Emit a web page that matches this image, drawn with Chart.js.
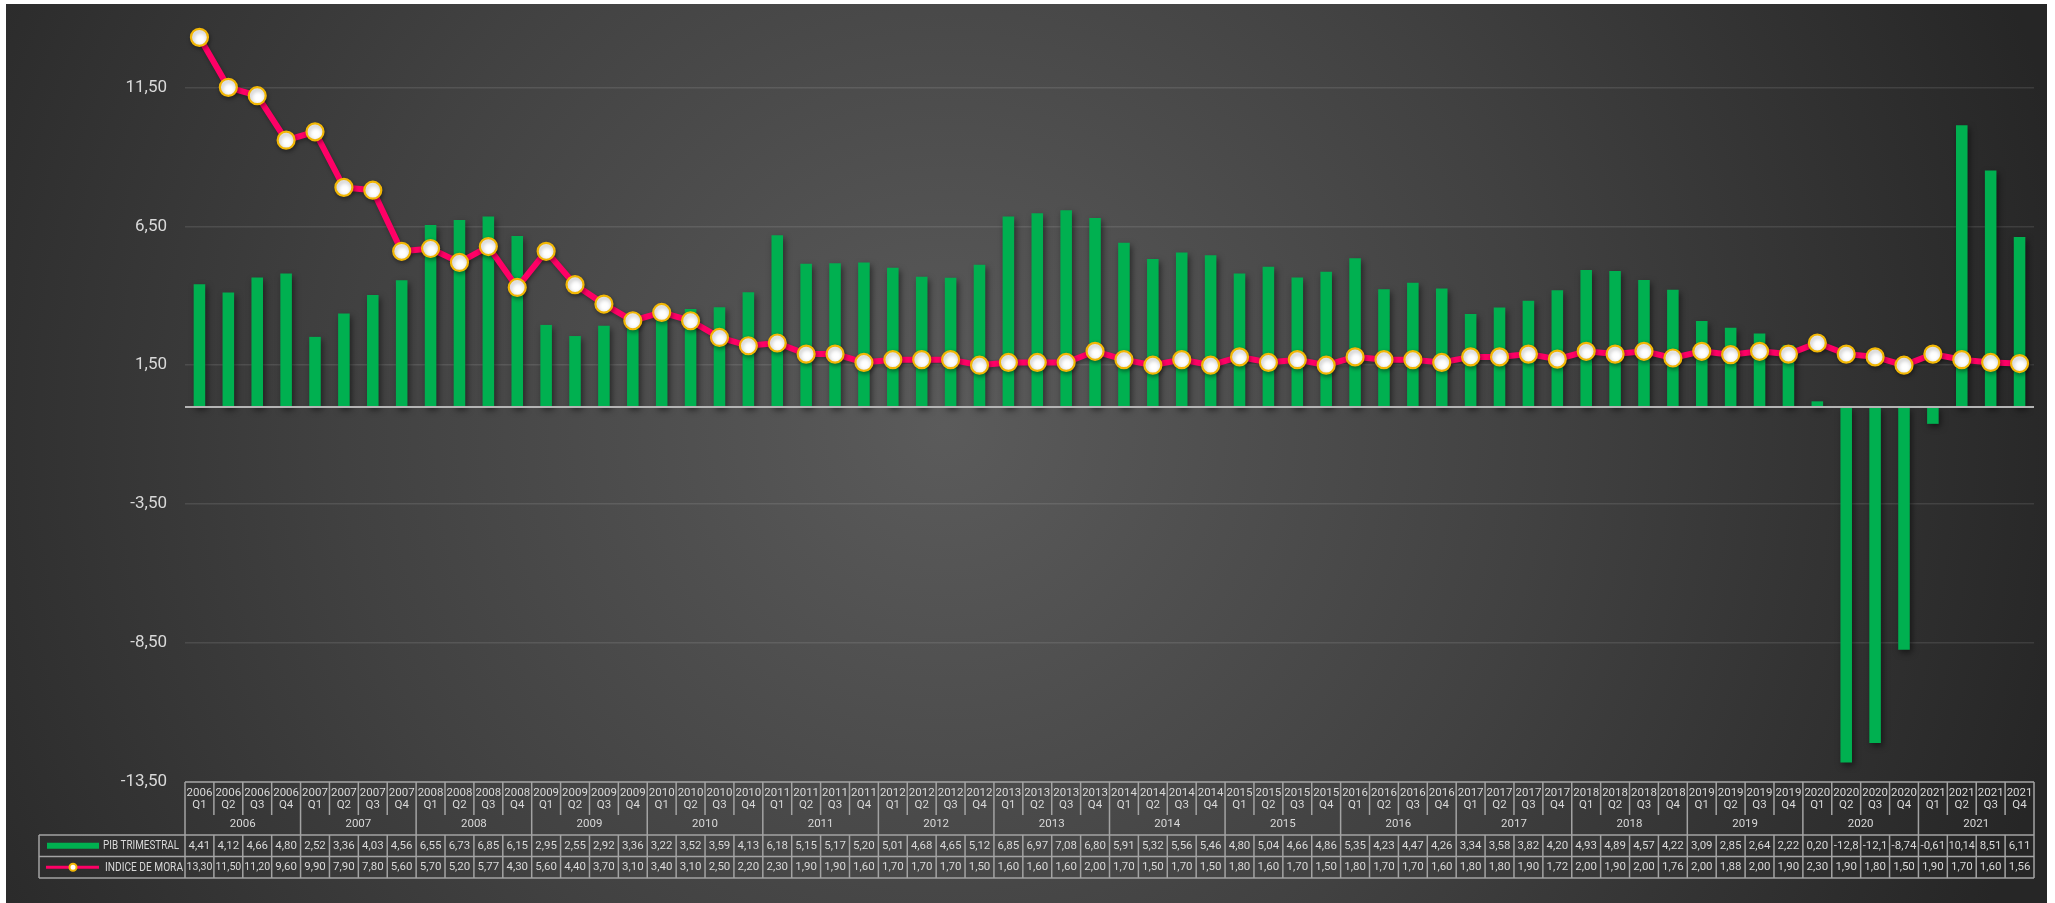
<!DOCTYPE html>
<html>
<head>
<meta charset="utf-8">
<script src="https://cdn.jsdelivr.net/npm/chart.js@4.4.1/dist/chart.umd.min.js"></script>
<style>
  html, body { margin: 0; padding: 0; background: #ffffff; }
  #wrap {
    position: absolute; left: 6px; top: 4px; width: 2041px; height: 899px;
    background: radial-gradient(circle at 46% 47%, #5b5b5b 0px, #414141 600px, #262626 1150px);
  }
  canvas { display: block; }
</style>
</head>
<body>
<div id="wrap"><canvas id="pib_mora_chart"></canvas></div>
<script>
const years = ["2006", "2007", "2008", "2009", "2010", "2011", "2012", "2013",
  "2014", "2015", "2016", "2017", "2018", "2019", "2020", "2021"];
const quarters = ["Q1", "Q2", "Q3", "Q4"];

const pib_trimestral = [
  4.41, 4.12, 4.66, 4.80,
  2.52, 3.36, 4.03, 4.56,
  6.55, 6.73, 6.85, 6.15,
  2.95, 2.55, 2.92, 3.36,
  3.22, 3.52, 3.59, 4.13,
  6.18, 5.15, 5.17, 5.20,
  5.01, 4.68, 4.65, 5.12,
  6.85, 6.97, 7.08, 6.80,
  5.91, 5.32, 5.56, 5.46,
  4.80, 5.04, 4.66, 4.86,
  5.35, 4.23, 4.47, 4.26,
  3.34, 3.58, 3.82, 4.20,
  4.93, 4.89, 4.57, 4.22,
  3.09, 2.85, 2.64, 2.22,
  0.20, -12.8, -12.1, -8.74,
  -0.61, 10.14, 8.51, 6.11,
];

const indice_mora = [
  13.30, 11.50, 11.20, 9.60,
  9.90, 7.90, 7.80, 5.60,
  5.70, 5.20, 5.77, 4.30,
  5.60, 4.40, 3.70, 3.10,
  3.40, 3.10, 2.50, 2.20,
  2.30, 1.90, 1.90, 1.60,
  1.70, 1.70, 1.70, 1.50,
  1.60, 1.60, 1.60, 2.00,
  1.70, 1.50, 1.70, 1.50,
  1.80, 1.60, 1.70, 1.50,
  1.80, 1.70, 1.70, 1.60,
  1.80, 1.80, 1.90, 1.72,
  2.00, 1.90, 2.00, 1.76,
  2.00, 1.88, 2.00, 1.90,
  2.30, 1.90, 1.80, 1.50,
  1.90, 1.70, 1.60, 1.56,
];

const y_ticks = [-13.5, -8.5, -3.5, 1.5, 6.5, 11.5];

const pib_label = "PIB TRIMESTRAL";
const mora_label = "INDICE DE MORA";

let labels = [];
years.forEach((y) => {
  quarters.forEach((q) => labels.push([y, q]));
});

const textColor = "#d9d9d9";
const tableLine = "#a3a3a3";
const barColor = "#00b050";
const lineColor = "#ff0066";
const markerBorder = "#f2b705";

// excel-style value in a narrow cell: two decimals, comma, max 5 chars
function cellText(v) {
  return v.toFixed(2).replace(".", ",").slice(0, 5);
}

const shadowPlugin = {
  id: "shadow",
  beforeDatasetDraw(chart, args) {
    const ctx = chart.ctx;
    ctx.save();
    if (args.index === 0) {
      ctx.shadowColor = "rgba(0,0,0,0.35)";
      ctx.shadowBlur = 4;
      ctx.shadowOffsetX = 1;
      ctx.shadowOffsetY = 2;
    } else {
      ctx.shadowColor = "rgba(0,0,0,0.5)";
      ctx.shadowBlur = 6;
      ctx.shadowOffsetX = 2;
      ctx.shadowOffsetY = 3;
    }
  },
  afterDatasetDraw(chart) {
    chart.ctx.restore();
  },
};

// horizontal axis line at 0, on top of the bars
const zeroLinePlugin = {
  id: "zeroLine",
  afterDatasetDraw(chart, args) {
    if (args.index !== 1) return;
    const ctx = chart.ctx;
    const area = chart.chartArea;
    const y0 = chart.scales.y.getPixelForValue(0);
    ctx.save();
    ctx.strokeStyle = "#b4b4b4";
    ctx.lineWidth = 2;
    ctx.beginPath();
    ctx.moveTo(area.left, y0);
    ctx.lineTo(area.right, y0);
    ctx.stroke();
    ctx.restore();
  },
};

// data table under the plot: quarters, years, then one row per series
const tablePlugin = {
  id: "dataTable",
  afterDraw(chart) {
    const ctx = chart.ctx;
    const area = chart.chartArea;
    const xs = chart.scales.x;
    const n = labels.length;
    const cw = (area.right - area.left) / n;

    const top = area.bottom;
    const qBottom = top + 33;
    const yearBottom = top + 53;
    const row1Bottom = yearBottom + 21.5;
    const row2Bottom = row1Bottom + 21.5;
    const legendLeft = 33;

    ctx.save();
    ctx.strokeStyle = tableLine;
    ctx.lineWidth = 1.5;
    ctx.beginPath();
    ctx.moveTo(area.left, top);
    ctx.lineTo(area.right, top);
    [yearBottom, row1Bottom, row2Bottom].forEach((y) => {
      ctx.moveTo(legendLeft, y);
      ctx.lineTo(area.right, y);
    });
    ctx.moveTo(legendLeft, yearBottom);
    ctx.lineTo(legendLeft, row2Bottom);
    for (let i = 0; i <= n; i++) {
      const x = area.left + i * cw;
      if (i % 4 === 0) {
        ctx.moveTo(x, top);
        ctx.lineTo(x, row2Bottom);
      } else {
        ctx.moveTo(x, top);
        ctx.lineTo(x, qBottom);
        ctx.moveTo(x, yearBottom);
        ctx.lineTo(x, row2Bottom);
      }
    }
    ctx.stroke();

    ctx.fillStyle = textColor;
    ctx.textAlign = "center";
    ctx.textBaseline = "middle";
    ctx.font = "11.5px Roboto";
    const r1 = yearBottom + 10.75;
    const r2 = row1Bottom + 10.75;
    labels.forEach((lab, i) => {
      const cx = xs.getPixelForValue(i);
      ctx.fillText(lab[0], cx, top + 11, cw - 3);
      ctx.fillText(lab[1], cx, top + 23, cw - 3);
      ctx.fillText(cellText(pib_trimestral[i]), cx, r1, cw - 3);
      ctx.fillText(cellText(indice_mora[i]), cx, r2, cw - 3);
    });
    years.forEach((y, j) => {
      const cx = area.left + (j * 4 + 2) * cw;
      ctx.fillText(y, cx, top + 42);
    });

    // legend keys
    ctx.fillStyle = barColor;
    ctx.fillRect(41, r1 - 3, 52, 6);
    ctx.strokeStyle = lineColor;
    ctx.lineWidth = 3;
    ctx.beginPath();
    ctx.moveTo(40, r2);
    ctx.lineTo(93, r2);
    ctx.stroke();
    ctx.beginPath();
    ctx.arc(67, r2, 3.5, 0, Math.PI * 2);
    ctx.fillStyle = "#ffffff";
    ctx.fill();
    ctx.lineWidth = 2;
    ctx.strokeStyle = markerBorder;
    ctx.stroke();

    ctx.fillStyle = textColor;
    ctx.textAlign = "left";
    ctx.font = "13px Roboto";
    ctx.fillText(pib_label, 97, r1, 76);
    ctx.fillText(mora_label, 99, r2, 78);
    ctx.restore();
  },
};

const ctx = document.getElementById("pib_mora_chart").getContext("2d");

new Chart(ctx, {
  type: "bar",
  data: {
    labels: labels,
    datasets: [
      {
        type: "line",
        label: mora_label,
        data: indice_mora,
        order: 0,
        borderColor: lineColor,
        borderWidth: 6,
        tension: 0,
        pointRadius: 8.5,
        pointHoverRadius: 8.5,
        pointBackgroundColor: "#ffffff",
        pointBorderColor: markerBorder,
        pointBorderWidth: 2.2,
      },
      {
        type: "bar",
        label: pib_label,
        data: pib_trimestral,
        order: 1,
        backgroundColor: barColor,
        barPercentage: 0.4,
        categoryPercentage: 1.0,
      },
    ],
  },
  options: {
    responsive: true,
    maintainAspectRatio: false,
    animation: false,
    layout: { autoPadding: false, padding: { left: 0, right: 13, top: 0, bottom: 121 } },
    plugins: {
      legend: { display: false },
      tooltip: { enabled: false },
    },
    scales: {
      x: {
        display: false,
        offset: true,
      },
      y: {
        min: -13.5,
        max: 14.5,
        afterBuildTicks(scale) {
          scale.ticks = y_ticks.map((v) => ({ value: v }));
        },
        afterFit(scale) {
          scale.width = 179;
          scale.paddingTop = 0;
          scale.paddingBottom = 0;
        },
        border: { display: false },
        grid: {
          color: "rgba(255,255,255,0.1)",
          lineWidth: 1.5,
          drawTicks: false,
        },
        ticks: {
          padding: 18,
          color: textColor,
          font: { family: "Roboto", size: 17 },
          callback: (v) => v.toFixed(2).replace(".", ","),
        },
      },
    },
  },
  plugins: [shadowPlugin, zeroLinePlugin, tablePlugin],
});
</script>
</body>
</html>
